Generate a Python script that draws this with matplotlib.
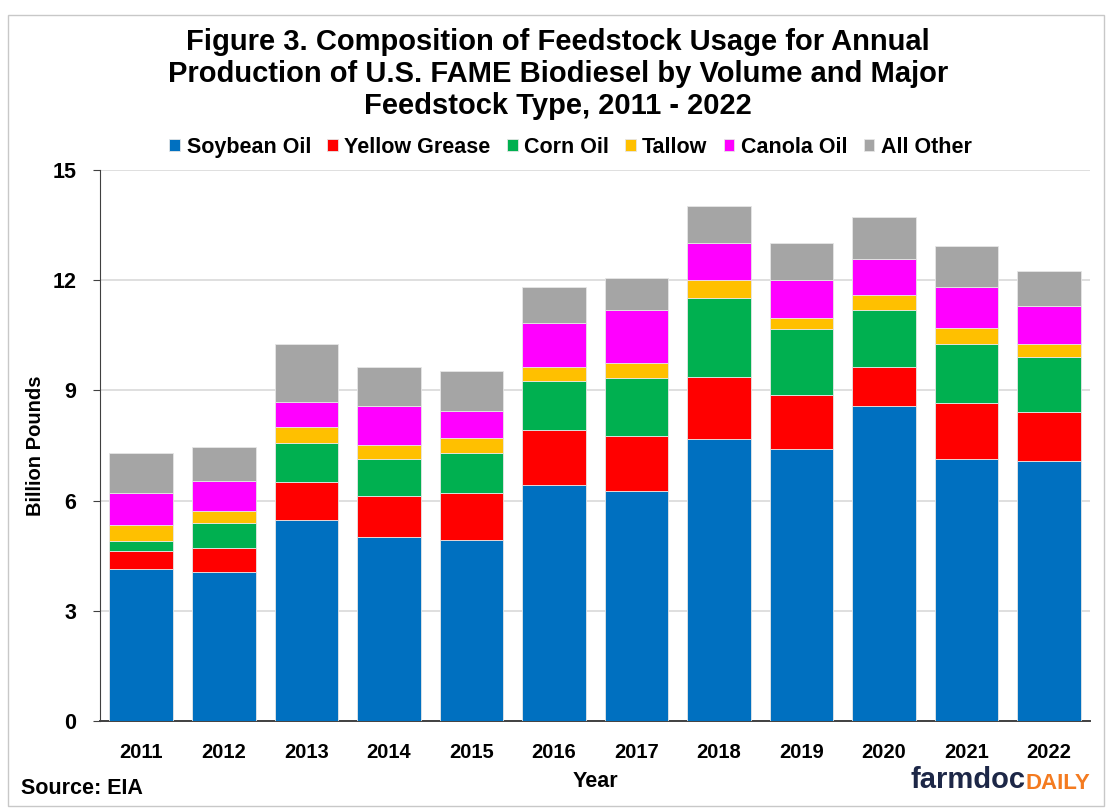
"""Figure 3: feedstock composition of U.S. FAME biodiesel production, 2011-2022."""

import matplotlib.pyplot as plt
import numpy as np
from matplotlib.patches import Rectangle

plt.rcParams["font.family"] = ["Liberation Sans", "DejaVu Sans"]

# billion pounds
YEARS = ["2011", "2012", "2013", "2014", "2015", "2016",
         "2017", "2018", "2019", "2020", "2021", "2022"]
SOYBEAN = [4.14, 4.05, 5.47, 5.00, 4.94, 6.43, 6.26, 7.69, 7.40, 8.58, 7.12, 7.09]
YELLOW_GREASE = [0.48, 0.67, 1.03, 1.13, 1.26, 1.49, 1.50, 1.68, 1.48, 1.06, 1.53, 1.33]
CORN_OIL = [0.29, 0.66, 1.06, 0.99, 1.09, 1.35, 1.59, 2.15, 1.78, 1.55, 1.62, 1.48]
TALLOW = [0.43, 0.35, 0.45, 0.39, 0.42, 0.37, 0.39, 0.50, 0.30, 0.40, 0.42, 0.37]
CANOLA = [0.86, 0.80, 0.68, 1.07, 0.74, 1.19, 1.45, 0.99, 1.06, 1.00, 1.13, 1.03]
ALL_OTHER = [1.09, 0.92, 1.57, 1.05, 1.09, 0.99, 0.86, 1.00, 0.99, 1.12, 1.10, 0.95]

SERIES = [
    ("Soybean Oil", SOYBEAN, "#0070C0"),
    ("Yellow Grease", YELLOW_GREASE, "#FF0000"),
    ("Corn Oil", CORN_OIL, "#00B050"),
    ("Tallow", TALLOW, "#FFC000"),
    ("Canola Oil", CANOLA, "#FF00FF"),
    ("All Other", ALL_OTHER, "#A5A5A5"),
]


def main() -> None:
    fig = plt.figure(figsize=(11.1, 8.09), dpi=100)
    ax = fig.add_axes([0.0901, 0.1088, 0.892, 0.681])

    x = np.arange(len(YEARS))
    bottom = np.zeros(len(YEARS))
    for name, vals, color in SERIES:
        vals = np.array(vals)
        ax.bar(x, vals, 0.77, bottom=bottom, color=color, label=name,
               edgecolor="#e6e6e6", linewidth=0.6, zorder=3)
        bottom += vals

    ax.set_xlim(-0.5, len(YEARS) - 0.5)
    ax.set_ylim(0, 15)
    ax.set_yticks([0, 3, 6, 9, 12, 15])
    ax.set_xticks(x)
    ax.set_xticklabels(YEARS, fontsize=14.5, fontweight="bold")
    for lab in ax.get_yticklabels():
        lab.set_fontsize(15.5)
        lab.set_fontweight("bold")
    ax.tick_params(axis="x", length=0, pad=16)
    ax.tick_params(axis="y", length=5, color="#404040", pad=12)
    ax.grid(True, axis="y", color="#d9d9d9", linewidth=1.2, zorder=0)
    ax.set_axisbelow(True)
    for side in ("top", "right"):
        ax.spines[side].set_visible(False)
    ax.spines["left"].set_color("#404040")
    ax.spines["bottom"].set_color("#404040")
    ax.spines["bottom"].set_linewidth(1.4)

    ax.set_ylabel("Billion Pounds", fontsize=14.5, fontweight="bold", labelpad=5)
    ax.set_xlabel("Year", fontsize=15.5, fontweight="bold", labelpad=6)

    fig.text(0.503, 0.966,
             "Figure 3. Composition of Feedstock Usage for Annual\n"
             "Production of U.S. FAME Biodiesel by Volume and Major\n"
             "Feedstock Type, 2011 - 2022",
             ha="center", va="top", fontsize=21, fontweight="bold",
             linespacing=1.2)

    handles, labels = ax.get_legend_handles_labels()
    fig.legend(handles, labels, loc="center", bbox_to_anchor=(0.514, 0.818),
               ncol=6, frameon=False, handlelength=0.5, handleheight=0.5,
               handletextpad=0.3, columnspacing=0.75,
               prop={"size": 15.5, "weight": "bold"})

    fig.text(0.019, 0.012, "Source: EIA", fontsize=15.5, fontweight="bold",
             ha="left", va="bottom")
    t = fig.text(0.82, 0.018, "farmdoc", fontsize=21, fontweight="bold",
                 color="#1d2747", ha="left", va="bottom")
    fig.canvas.draw()
    bb = t.get_window_extent().transformed(fig.transFigure.inverted())
    fig.text(bb.x1, 0.018, "DAILY", fontsize=16, fontweight="bold",
             color="#F47B20", ha="left", va="bottom")

    fig.add_artist(Rectangle((0.007, 0.004), 0.988, 0.978, transform=fig.transFigure,
                             fill=False, edgecolor="#c8c8c8", linewidth=1.0))

    fig.savefig("out.png", dpi=100)


if __name__ == "__main__":
    main()
